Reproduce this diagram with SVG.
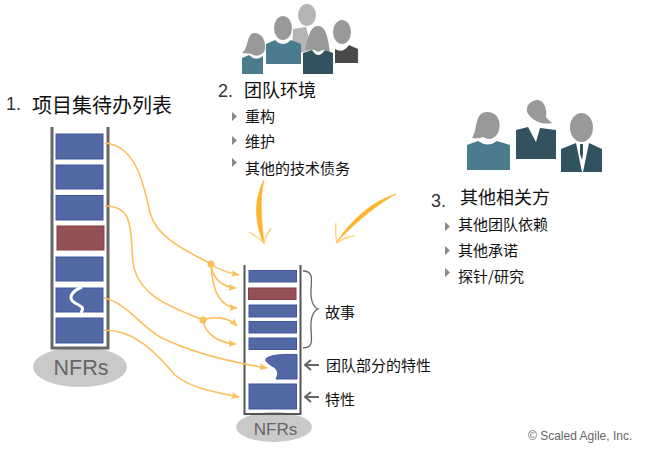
<svg xmlns="http://www.w3.org/2000/svg" width="664" height="452" viewBox="0 0 664 452">
<style>
text{font-family:"Noto Sans CJK SC","Liberation Sans",sans-serif;fill:#111}
.h{font-size:18px}.n{font-family:"Liberation Sans",sans-serif;font-size:18px;fill:#333}
.s{font-size:15px}.l{font-size:15px}
.nf{font-family:"Liberation Sans",sans-serif;fill:#666}
.w{fill:none;stroke:#666;stroke-width:3}.w2{fill:none;stroke:#555;stroke-width:2}
.b{fill:#5369a5;stroke:#3f56a0;stroke-width:1}.r{fill:#935155;stroke:#8a3a40;stroke-width:1}
.c{fill:none;stroke:#fbbf5c;stroke-width:1.6}
.e{fill:#c9c9c9}.t{fill:#8a8a8a}
.head{fill:#999}.teal{fill:#4b7b8f}.dark{fill:#33525f}.char{fill:#4a4a4a}.lt{fill:#b5b5b5}
.gr{fill:none;stroke:#666;stroke-width:2}
.sw{fill:#fbb62d;stroke:#fbb62d;stroke-width:.6}
.swh{fill:none;stroke:#fcd27e;stroke-width:1.4}
</style>
<defs>
<marker id="a" markerWidth="10" markerHeight="10" refX="7.500" refY="4" orient="auto" markerUnits="userSpaceOnUse"><path d="M0 0.500L8 4L0 7.500L1.500 4Z" fill="#fbbf5c"/></marker>
</defs>

<g id="backlog">
<ellipse class="e" cx="80" cy="367" rx="47" ry="20"/>
<path class="w" d="M52 127V348H108V127"/>
<rect class="b" x="56" y="134" width="47" height="25"/>
<rect class="b" x="56" y="165" width="47" height="24"/>
<rect class="b" x="56" y="195.500" width="47" height="24.500"/>
<rect class="r" x="57" y="226" width="47" height="24"/>
<rect class="b" x="56" y="257" width="47" height="24"/>
<rect class="b" x="56" y="288" width="47" height="24"/>
<path d="M82 287C70 292 68 299 75 303C83 307 84 308 81 313" fill="none" stroke="#fff" stroke-width="3"/>
<rect class="b" x="56" y="318" width="47" height="25"/>
<text class="nf" x="81" y="375" font-size="21.500" text-anchor="middle">NFRs</text>
<text class="n" x="6" y="110">1.</text>
<text class="h" x="32" y="113" style="font-size:20px">项目集待办列表</text>
</g>

<g id="team-icons">
<ellipse class="lt" cx="307" cy="15" rx="9" ry="11"/>
<path class="lt" d="M293 29L306 27L312 50L292 55Z"/>
<ellipse class="head" cx="283" cy="28" rx="9" ry="12"/>
<ellipse class="head" cx="342" cy="32" rx="9" ry="12"/>
<path class="char" d="M335 49Q343 54 349 45L358 49V63H335Z"/>
<path class="head" d="M242 53C248 50 247 33 254 33C263 33 266 42 265 50C262 56 256 57 251 54Q246 53 242 53Z"/>
<path class="teal" d="M242 58L249 55Q256 62 263 56V74H242Z"/>
<path class="teal" d="M266 44L275 40Q283 48 291 40L301 44V64H266Z"/>
<path class="head" d="M305 50C308 38 310 26 318 26C326 26 328 38 330 52C325 49 322 50 318 52C314 49 310 49 305 50Z"/>
<path class="dark" d="M303 53L312 50Q318 60 325 50L333 53V74H303Z"/>
</g>
<g id="team-text">
<text class="n" x="218" y="97">2.</text>
<text class="h" x="244" y="97">团队环境</text>
<path class="t" d="M232 112L237 116.500L232 121Z"/><text class="s" x="245" y="122">重构</text>
<path class="t" d="M232 136L237 140.500L232 145Z"/><text class="s" x="245" y="147">维护</text>
<path class="t" d="M232 158L237 162.500L232 167Z"/><text class="s" x="245" y="174">其他的技术债务</text>
</g>

<g id="stakeholder-icons">
<path class="head" d="M472 138C478 130 474 112 487 112C499 112 502 124 498 133C494 140 488 140 483 137Q478 139 472 138Z"/>
<path class="teal" d="M467 145L478 141Q488 148 497 141L510 145V170H467Z"/>
<path class="head" d="M527 112C526 104 532 100 538 100C545 101 547 110 546 117C548 120 551 122 552 123C544 125 532 122 527 112Z"/>
<path class="dark" d="M516 130L528 127L536 142L540 128L556 130V159H516Z"/>
<ellipse class="head" cx="581.500" cy="127.500" rx="11.500" ry="14.500"/>
<path class="dark" d="M561 149L576 143L582 172H561ZM589 143L602 149V172H583Z"/>
<path class="dark" d="M580 144H583V154L582 160L580 154Z"/>
</g>
<g id="stakeholder-text">
<text class="n" x="431" y="207">3.</text>
<text class="h" x="460" y="204">其他相关方</text>
<path class="t" d="M445 222L450 226.500L445 231Z"/><text class="s" x="458" y="230">其他团队依赖</text>
<path class="t" d="M445 246L450 250.500L445 255Z"/><text class="s" x="458" y="256">其他承诺</text>
<path class="t" d="M445 268L450 272.500L445 277Z"/><text class="s" x="458" y="282">探针/研究</text>
</g>

<g id="team-backlog">
<ellipse class="e" cx="274" cy="427" rx="38" ry="15"/>
<path class="w2" d="M244.500 265V414H300.500V265"/>
<rect class="b" x="249" y="270.500" width="47.500" height="11.500"/>
<rect class="r" x="248.500" y="288" width="47.500" height="11.500"/>
<rect class="b" x="249" y="305" width="47.500" height="12"/>
<rect class="b" x="249" y="321.500" width="47.500" height="11.500"/>
<rect class="b" x="249" y="338" width="47.500" height="11.500"/>
<path class="b" d="M297 354.500V379H276C280 372 276 368 272 366C266 362 264 360 267 358C272 355 280 354 297 354.500Z"/>
<rect class="b" x="249" y="384" width="47.500" height="25"/>
<text class="nf" x="275.500" y="435" font-size="17" text-anchor="middle">NFRs</text>
<text class="l" x="325" y="318">故事</text>
<text class="l" x="326" y="371">团队部分的特性</text>
<text class="l" x="325" y="405">特性</text>
<text x="528" y="440" font-size="12" style="font-family:'Liberation Sans',sans-serif;fill:#666">© Scaled Agile, Inc.</text>
</g>

<g id="connectors">
<path class="c" d="M105 143C135 146 143 180 150 213C157 238 185 250 211 264"/>
<path class="c" d="M211 264C217 269 225 272 239 275" marker-end="url(#a)"/>
<path class="c" d="M211 264C212 278 222 287 236 288" marker-end="url(#a)"/>
<path class="c" d="M211 264C212 290 220 307 237 308" marker-end="url(#a)"/>
<path class="c" d="M105 206C135 206 130 232 133 262C137 295 170 307 203 320"/>
<path class="c" d="M203 320C215 316 228 317 237 326" marker-end="url(#a)"/>
<path class="c" d="M203 320C205 335 220 343 236 344" marker-end="url(#a)"/>
<path class="c" d="M104 298C125 302 140 325 160 337C190 352 230 362 267 368" marker-end="url(#a)"/>
<path class="c" d="M104 330C135 330 155 352 175 375C190 388 215 392 239 397" marker-end="url(#a)"/>
<circle cx="211" cy="264" r="3.500" fill="#fbbf5c"/>
<circle cx="203" cy="320" r="3.500" fill="#fbbf5c"/>
<path class="sw" d="M264 180C254 198 254 222 264 244C262 222 259 202 264 180Z"/>
<path class="swh" d="M249 232Q258 237 264 243Q266 235 271 228"/>
<path class="sw" d="M396 194C370 202 350 222 336 243C346 232 372 207 396 194Z"/>
<path class="swh" d="M336 223Q335 235 337 243Q345 237 354 236"/>
<path class="gr" style="stroke-width:1.300" d="M303 271C316 271 310 284 311 296C312 304 315 308 318 309C315 310 312 314 311 322C310 336 316 348 303 348"/>
<path class="gr" d="M319 365H305M311 360L305 365L311 370"/>
<path class="gr" d="M319 397H305M311 392L305 397L311 402"/>
</g>
</svg>
